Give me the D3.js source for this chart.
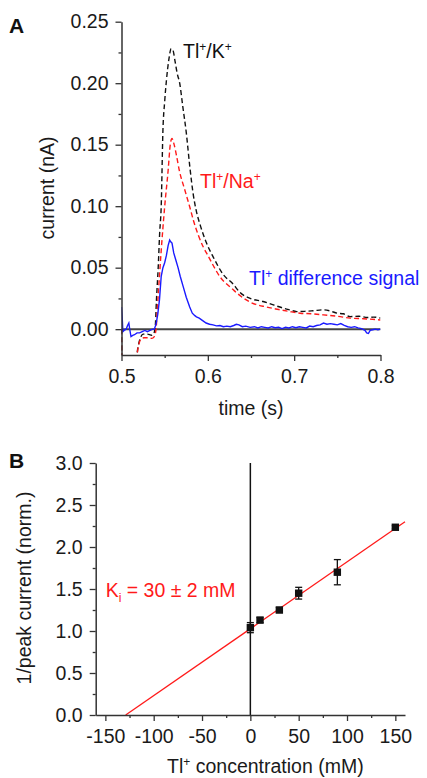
<!DOCTYPE html>
<html>
<head>
<meta charset="utf-8">
<script src="https://cdn.jsdelivr.net/npm/d3@7"></script>
<style>
html,body{margin:0;padding:0;background:#fff;}
svg{display:block;}
text{font-family:"Liberation Sans",Arial,sans-serif;}
</style>
</head>
<body>
<svg id="chart" width="427" height="778"></svg>
<script>
// ---------- Panel A data ----------
const kT = [0.500,0.5006,0.516,0.519,0.522,0.525,0.530,0.535,0.537,0.539,0.5405,0.5425,0.5442,0.546,0.548,0.550,0.552,0.555,0.5575,0.5595,0.562,0.5645,0.5674,0.571,0.575,0.579,0.583,0.587,0.591,0.5985,0.606,0.6178,0.6295,0.637,0.649,0.664,0.676,0.688,0.695,0.703,0.712,0.722,0.734,0.742,0.7496,0.757,0.765,0.775,0.785,0.792,0.800];
const kV = [0.000,-0.030,-0.030,-0.015,-0.007,-0.004,-0.004,-0.005,-0.004,0.001,0.024,0.050,0.078,0.100,0.162,0.185,0.202,0.220,0.228,0.227,0.218,0.208,0.200,0.181,0.160,0.133,0.110,0.095,0.085,0.070,0.059,0.0445,0.0365,0.030,0.025,0.0225,0.0197,0.017,0.0157,0.0143,0.0145,0.0150,0.0157,0.0148,0.013,0.0125,0.0102,0.0105,0.0095,0.0098,0.009];
const naT = [0.500,0.5006,0.516,0.519,0.5225,0.526,0.530,0.535,0.538,0.540,0.5422,0.546,0.550,0.554,0.5565,0.5585,0.561,0.564,0.567,0.573,0.579,0.5835,0.5946,0.600,0.614,0.6295,0.6334,0.649,0.668,0.682,0.695,0.707,0.720,0.734,0.750,0.765,0.780,0.800];
const naV = [0.000,-0.030,-0.030,-0.016,-0.008,-0.007,-0.007,-0.0075,-0.006,0.000,0.024,0.064,0.0995,0.129,0.150,0.155,0.150,0.140,0.129,0.114,0.0995,0.088,0.067,0.060,0.0427,0.032,0.0295,0.022,0.018,0.016,0.0143,0.013,0.0125,0.0116,0.0105,0.009,0.0085,0.0075];
const diffT = [0.500,0.5008,0.5016,0.503,0.5054,0.507,0.5085,0.5095,0.511,0.513,0.515,0.518,0.521,0.524,0.527,0.530,0.533,0.536,0.538,0.540,0.542,0.544,0.546,0.548,0.550,0.552,0.554,0.5558,0.557,0.5585,0.5605,0.563,0.5655,0.568,0.5713,0.575,0.579,0.582,0.585,0.5868,0.590,0.594,0.598,0.602,0.606,0.610,0.614,0.618,0.622,0.626,0.630,0.633,0.636,0.640,0.644,0.649,0.654,0.658,0.662,0.666,0.670,0.674,0.678,0.682,0.686,0.690,0.694,0.698,0.702,0.706,0.710,0.714,0.718,0.722,0.726,0.730,0.734,0.738,0.742,0.746,0.750,0.754,0.758,0.762,0.766,0.770,0.774,0.778,0.782,0.784,0.786,0.788,0.791,0.794,0.797,0.800];
const diffV = [0.018,0.010,-0.002,-0.001,0.000,0.003,0.005,0.000,-0.006,-0.005,-0.0045,-0.003,-0.003,-0.002,-0.001,-0.002,-0.001,0.000,0.000,0.004,0.012,0.024,0.043,0.050,0.054,0.060,0.068,0.0725,0.071,0.070,0.062,0.056,0.050,0.043,0.035,0.026,0.018,0.013,0.011,0.010,0.009,0.007,0.005,0.004,0.0035,0.0027,0.003,0.002,0.0025,0.002,0.003,0.004,0.0035,0.002,0.0025,0.0015,0.002,0.001,0.002,0.0015,0.001,0.002,0.0012,0.0015,0.0005,0.0015,0.001,0.002,0.0012,0.002,0.0015,0.001,0.0025,0.002,0.003,0.0035,0.005,0.004,0.0045,0.004,0.0035,0.0045,0.003,0.002,0.0015,0.002,0.001,0.0005,-0.001,-0.003,-0.0035,-0.001,-0.0005,0.000,-0.0005,0.000];
const aYTicks = [0.00,0.05,0.10,0.15,0.20,0.25];
const aYMinor = [0.025,0.075,0.125,0.175,0.225];
const aXTicks = [0.5,0.6,0.7,0.8];
const aXMinor = [0.55,0.65,0.75];

// ---------- Panel B data ----------
const concX = [0,10,30,50,90,150];
const invPeak = [1.04,1.13,1.25,1.45,1.70,2.235];
const invErr = [0.06,0.03,0.03,0.07,0.15,0.02];
const fitX = [-129,160];
const fitY = [0,2.30];
const bYTicks = [0,0.5,1.0,1.5,2.0,2.5,3.0];
const bYMinor = [0.25,0.75,1.25,1.75,2.25,2.75];
const bXTicks = [-150,-100,-50,0,50,100,150];
const bXMinor = [-125,-75,-25,25,75,125];

const svg = d3.select("#chart");
const AX = "#333";
const FS = 19.5;

function styleAxis(g){
  g.selectAll("path.domain").attr("stroke",AX).attr("stroke-width",1.5);
  g.selectAll(".tick line").attr("stroke",AX).attr("stroke-width",1.3);
  g.selectAll(".tick text").attr("font-family",'"Liberation Sans",Arial,sans-serif').attr("font-size",FS).attr("fill","#1a1a1a");
}

// ===== Panel A =====
const xA = d3.scaleLinear().domain([0.5,0.8]).range([121.5,380.5]);
const yA = d3.scaleLinear().domain([-0.021,0.25]).range([355,21.7]);

svg.append("defs").append("clipPath").attr("id","clipA").append("rect")
  .attr("x",xA(0.5)).attr("y",yA(0.25)).attr("width",xA(0.8)-xA(0.5)).attr("height",yA(-0.021)-yA(0.25));

const gA = svg.append("g").attr("clip-path","url(#clipA)");
gA.append("line").attr("x1",xA(0.5)).attr("x2",xA(0.8)).attr("y1",yA(0)).attr("y2",yA(0))
  .attr("stroke","#444").attr("stroke-width",2);

const lineA = d3.line().x(d=>xA(d[0])).y(d=>yA(d[1]));
const lineS = d3.line().x(d=>xA(d[0])).y(d=>yA(d[1])).curve(d3.curveMonotoneX);
gA.append("path").datum(d3.zip(kT,kV)).attr("d",lineS).attr("fill","none")
  .attr("stroke","#111").attr("stroke-width",1.4).attr("stroke-dasharray","5,3");
gA.append("path").datum(d3.zip(naT,naV)).attr("d",lineS).attr("fill","none")
  .attr("stroke","#ff1a1a").attr("stroke-width",1.4).attr("stroke-dasharray","5,3");
gA.append("path").datum(d3.zip(diffT,diffV)).attr("d",lineA).attr("fill","none")
  .attr("stroke","#1a1aff").attr("stroke-width",1.4);

// axes A
const axA_y = svg.append("g").attr("transform",`translate(${xA(0.5)},0)`)
  .call(d3.axisLeft(yA).tickValues(aYTicks).tickFormat(d3.format(".2f")).tickSize(6).tickSizeOuter(0).tickPadding(7));
styleAxis(axA_y);
const axA_ym = svg.append("g").attr("transform",`translate(${xA(0.5)},0)`)
  .call(d3.axisLeft(yA).tickValues(aYMinor).tickFormat("").tickSize(3).tickSizeOuter(0));
axA_ym.select("path.domain").remove(); styleAxis(axA_ym);
const axA_x = svg.append("g").attr("transform",`translate(0,${yA(-0.021)})`)
  .call(d3.axisBottom(xA).tickValues(aXTicks).tickFormat(d3.format(".1f")).tickSize(6).tickSizeOuter(0).tickPadding(8));
styleAxis(axA_x);
const axA_xm = svg.append("g").attr("transform",`translate(0,${yA(-0.021)})`)
  .call(d3.axisBottom(xA).tickValues(aXMinor).tickFormat("").tickSize(3).tickSizeOuter(0));
axA_xm.select("path.domain").remove(); styleAxis(axA_xm);

// labels A
svg.append("text").attr("x",9).attr("y",33).attr("font-size",21).attr("font-weight","bold").attr("fill","#111").text("A");
svg.append("text").attr("transform","translate(54,188) rotate(-90)").attr("text-anchor","middle")
  .attr("font-size",FS).attr("fill","#1a1a1a").text("current (nA)");
svg.append("text").attr("x",(xA(0.5)+xA(0.8))/2).attr("y",415).attr("text-anchor","middle")
  .attr("font-size",FS).attr("fill","#1a1a1a").text("time (s)");

function supLabel(x,y,color,parts){
  const t = svg.append("text").attr("x",x).attr("y",y).attr("font-size",FS).attr("fill",color);
  let lift = 0;
  parts.forEach(p=>{
    const ts = t.append("tspan");
    if(p.sup){ ts.attr("font-size",12).attr("dy",-7 - lift); lift = -7; }
    else { ts.attr("dy",-lift); lift = 0; }
    ts.text(p.s);
  });
  return t;
}
supLabel(183,58,"#111",[{s:"Tl"},{s:"+",sup:true},{s:"/K"},{s:"+",sup:true}]);
supLabel(200,188,"#ff1a1a",[{s:"Tl"},{s:"+",sup:true},{s:"/Na"},{s:"+",sup:true}]);
supLabel(249,285,"#1a1aff",[{s:"Tl"},{s:"+",sup:true},{s:" difference signal"}]);

// ===== Panel B =====
const xB = d3.scaleLinear().domain([-160,160]).range([95.7,405]);
const yB = d3.scaleLinear().domain([0,3]).range([715,463]);

svg.append("line").attr("x1",xB(0)).attr("x2",xB(0)).attr("y1",yB(0)).attr("y2",yB(3))
  .attr("stroke","#111").attr("stroke-width",1.5);

svg.append("line").attr("x1",xB(fitX[0])).attr("x2",xB(fitX[1])).attr("y1",yB(fitY[0])).attr("y2",yB(fitY[1]))
  .attr("stroke","#ff1a1a").attr("stroke-width",1.3);

const pts = concX.map((c,i)=>({x:c,y:invPeak[i],e:invErr[i]}));
const gB = svg.append("g");
pts.forEach(p=>{
  gB.append("line").attr("x1",xB(p.x)).attr("x2",xB(p.x)).attr("y1",yB(p.y-p.e)).attr("y2",yB(p.y+p.e))
    .attr("stroke","#111").attr("stroke-width",1.3);
  [p.y-p.e,p.y+p.e].forEach(v=>{
    gB.append("line").attr("x1",xB(p.x)-3.5).attr("x2",xB(p.x)+3.5).attr("y1",yB(v)).attr("y2",yB(v))
      .attr("stroke","#111").attr("stroke-width",1.3);
  });
});
gB.selectAll("rect.pt").data(pts).enter().append("rect").attr("class","pt")
  .attr("x",d=>xB(d.x)-3.7).attr("y",d=>yB(d.y)-3.7).attr("width",7.4).attr("height",7.4).attr("fill","#111");

const axB_y = svg.append("g").attr("transform",`translate(${xB(-160)},0)`)
  .call(d3.axisLeft(yB).tickValues(bYTicks).tickFormat(d3.format(".1f")).tickSize(6).tickSizeOuter(0).tickPadding(7));
styleAxis(axB_y);
const axB_ym = svg.append("g").attr("transform",`translate(${xB(-160)},0)`)
  .call(d3.axisLeft(yB).tickValues(bYMinor).tickFormat("").tickSize(3).tickSizeOuter(0));
axB_ym.select("path.domain").remove(); styleAxis(axB_ym);
const axB_x = svg.append("g").attr("transform",`translate(0,${yB(0)})`)
  .call(d3.axisBottom(xB).tickValues(bXTicks).tickFormat(d=>d<0?"-"+Math.abs(d):String(d)).tickSize(6).tickSizeOuter(0).tickPadding(8));
styleAxis(axB_x);
const axB_xm = svg.append("g").attr("transform",`translate(0,${yB(0)})`)
  .call(d3.axisBottom(xB).tickValues(bXMinor).tickFormat("").tickSize(3).tickSizeOuter(0));
axB_xm.select("path.domain").remove(); styleAxis(axB_xm);

svg.append("text").attr("x",9).attr("y",468).attr("font-size",21).attr("font-weight","bold").attr("fill","#111").text("B");
svg.append("text").attr("transform","translate(31,588) rotate(-90)").attr("text-anchor","middle")
  .attr("font-size",FS).attr("fill","#1a1a1a").text("1/peak current (norm.)");
const xl = svg.append("text").attr("x",(xB(-160)+xB(160))/2+15).attr("y",773).attr("text-anchor","middle")
  .attr("font-size",FS).attr("fill","#1a1a1a");
xl.append("tspan").text("Tl");
xl.append("tspan").attr("font-size",12).attr("dy",-7).text("+");
xl.append("tspan").attr("dy",7).text(" concentration (mM)");

const ki = svg.append("text").attr("x",105.7).attr("y",597).attr("font-size",FS).attr("fill","#ff1a1a");
ki.append("tspan").text("K");
ki.append("tspan").attr("font-size",12).attr("dy",5).text("i");
ki.append("tspan").attr("dy",-5).text(" = 30 \u00B1 2 mM");
</script>
</body>
</html>
